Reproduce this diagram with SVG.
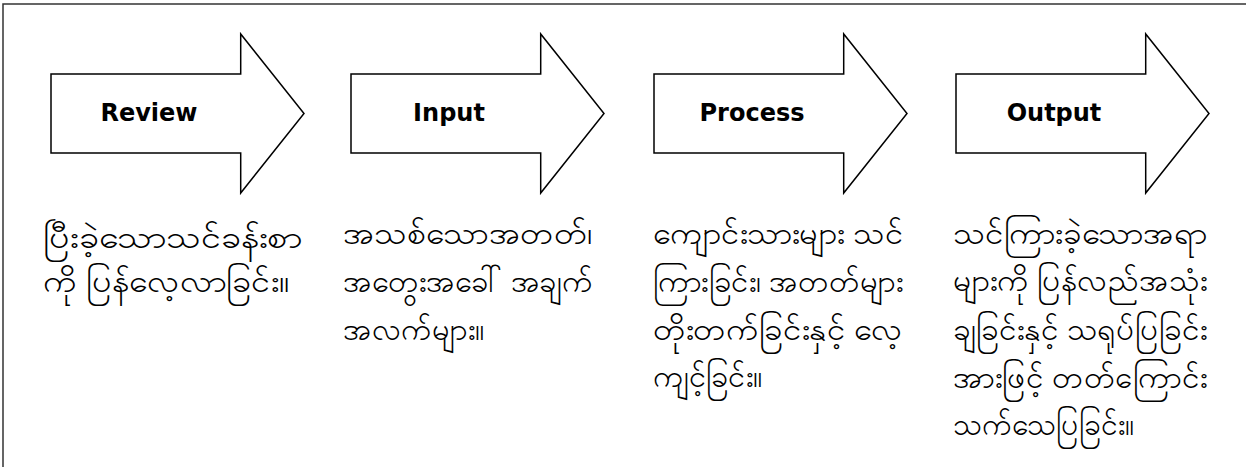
<svg xmlns="http://www.w3.org/2000/svg" width="1246" height="467" viewBox="0 0 1246 467">
<style>
.frame{fill:none;stroke:#333;stroke-width:1.5}
.arrow{fill:#fff;stroke:#000;stroke-width:1.5;stroke-linejoin:miter}
.lbl{font-family:"DejaVu Sans",Verdana,sans-serif;font-weight:bold;font-size:24px;fill:#000;text-anchor:middle}
.my{font-family:"Noto Sans","DejaVu Sans",sans-serif;font-size:30px;fill:#000}
</style>
<defs>
<path id="arr" d="M0,0 H189.7 V-40 L253,39.5 L189.7,119 V79 H0 Z"/>
</defs>
<rect width="1246" height="467" fill="#fff"/>
<rect class="frame" x="3" y="4" width="1260" height="480"/>
<g id="connectors"></g>
<g id="review">
<use href="#arr" class="arrow" x="51" y="74"/>
<text class="lbl" x="149" y="121">Review</text>
</g>
<g id="input">
<use href="#arr" class="arrow" x="351" y="74"/>
<text class="lbl" x="449" y="121">Input</text>
</g>
<g id="process">
<use href="#arr" class="arrow" x="654" y="74"/>
<text class="lbl" x="752" y="121">Process</text>
</g>
<g id="output">
<use href="#arr" class="arrow" x="956" y="74"/>
<text class="lbl" x="1054" y="121">Output</text>
</g>
<g id="review-text" class="my">
<text x="43" y="248" textLength="259" lengthAdjust="spacingAndGlyphs">ပြီးခဲ့သောသင်ခန်းစာ</text>
<text x="43" y="292" textLength="247" lengthAdjust="spacingAndGlyphs">ကို ပြန်လေ့လာခြင်း။</text>
</g>
<g id="input-text" class="my">
<text x="343" y="244" textLength="250" lengthAdjust="spacingAndGlyphs">အသစ်သောအတတ်၊</text>
<text x="343" y="292" textLength="250" lengthAdjust="spacingAndGlyphs">အတွေးအခေါ် အချက်</text>
<text x="343" y="340" textLength="142" lengthAdjust="spacingAndGlyphs">အလက်များ။</text>
</g>
<g id="process-text" class="my">
<text x="653" y="244" textLength="250" lengthAdjust="spacingAndGlyphs">ကျောင်းသားများ သင်</text>
<text x="653" y="292" textLength="250" lengthAdjust="spacingAndGlyphs">ကြားခြင်း၊ အတတ်များ</text>
<text x="653" y="340" textLength="250" lengthAdjust="spacingAndGlyphs">တိုးတက်ခြင်းနှင့် လေ့</text>
<text x="653" y="387" textLength="110" lengthAdjust="spacingAndGlyphs">ကျင့်ခြင်း။</text>
</g>
<g id="output-text" class="my">
<text x="953" y="244" textLength="254" lengthAdjust="spacingAndGlyphs">သင်ကြားခဲ့သောအရာ</text>
<text x="953" y="291" textLength="254" lengthAdjust="spacingAndGlyphs">များကို ပြန်လည်အသုံး</text>
<text x="953" y="340" textLength="254" lengthAdjust="spacingAndGlyphs">ချခြင်းနှင့် သရုပ်ပြခြင်း</text>
<text x="953" y="388" textLength="254" lengthAdjust="spacingAndGlyphs">အားဖြင့် တတ်ကြောင်း</text>
<text x="953" y="435" textLength="182" lengthAdjust="spacingAndGlyphs">သက်သေပြခြင်း။</text>
</g>
</svg>
